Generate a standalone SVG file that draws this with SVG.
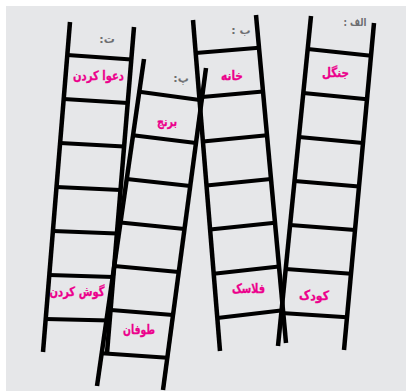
<svg xmlns="http://www.w3.org/2000/svg" width="406" height="391" viewBox="0 0 406 391">
<style>
.rail{stroke:#000;stroke-width:4.5;stroke-linecap:butt;fill:none}
.rung{stroke:#000;stroke-width:4;fill:none}
.word{font-family:"DejaVu Sans","Noto Sans",sans-serif;font-weight:bold;font-size:13px;fill:#ec008c;stroke:#ec008c;stroke-width:0.3;text-anchor:middle}
.lbl{font-family:"DejaVu Sans","Noto Sans",sans-serif;font-weight:bold;font-size:11px;fill:#6d6e71;text-anchor:middle}
</style>
<rect x="0" y="0" width="406" height="391" fill="#ffffff"/>
<rect x="6" y="6" width="400" height="385" fill="#e6e7e9"/>
<g id="ladder-alef">
<line class="rail" x1="311" y1="16" x2="278" y2="346"/>
<line class="rail" x1="374" y1="23" x2="344" y2="350"/>
<line class="rung" x1="307.7" y1="49" x2="371" y2="55.7"/>
<line class="rung" x1="303.3" y1="93" x2="367" y2="99.3"/>
<line class="rung" x1="298.9" y1="137" x2="363" y2="142.9"/>
<line class="rung" x1="294.5" y1="181" x2="359" y2="186.5"/>
<line class="rung" x1="290.1" y1="225" x2="355" y2="230.1"/>
<line class="rung" x1="285.7" y1="269" x2="351" y2="273.7"/>
<line class="rung" x1="281.3" y1="313" x2="347" y2="317.3"/>
<text class="lbl" x="355" y="26" direction="rtl" textLength="23" lengthAdjust="spacingAndGlyphs">الف :</text>
<text class="word" x="335.5" y="77" textLength="27" lengthAdjust="spacingAndGlyphs">جنگل</text>
<text class="word" x="314" y="300" textLength="30" lengthAdjust="spacingAndGlyphs">کودک</text>
</g>
<g id="ladder-be">
<line class="rail" x1="193" y1="20" x2="220" y2="351"/>
<line class="rail" x1="256" y1="15" x2="286" y2="343"/>
<line class="rung" x1="195.7" y1="53.1" x2="259" y2="47.8"/>
<line class="rung" x1="199.3" y1="97.2" x2="263" y2="91.5"/>
<line class="rung" x1="202.9" y1="141.4" x2="267" y2="135.3"/>
<line class="rung" x1="206.5" y1="185.5" x2="271" y2="179"/>
<line class="rung" x1="210.1" y1="229.6" x2="275" y2="222.7"/>
<line class="rung" x1="213.7" y1="273.8" x2="279" y2="266.5"/>
<line class="rung" x1="217.3" y1="317.9" x2="283" y2="310.2"/>
<text class="lbl" x="241" y="34" direction="rtl">ب :</text>
<text class="word" x="232" y="80" textLength="22" lengthAdjust="spacingAndGlyphs">خانه</text>
<text class="word" x="248.5" y="293" textLength="33" lengthAdjust="spacingAndGlyphs">فلاسک</text>
</g>
<g id="ladder-te">
<line class="rail" x1="70" y1="22" x2="43" y2="352"/>
<line class="rail" x1="134" y1="27" x2="107" y2="353"/>
<line class="rung" x1="67.3" y1="55" x2="131.3" y2="59.6"/>
<line class="rung" x1="63.7" y1="99" x2="127.7" y2="103.1"/>
<line class="rung" x1="60.1" y1="143" x2="124.1" y2="146.5"/>
<line class="rung" x1="56.5" y1="187" x2="120.5" y2="190"/>
<line class="rung" x1="52.9" y1="231" x2="116.9" y2="233.5"/>
<line class="rung" x1="49.3" y1="275" x2="113.3" y2="276.9"/>
<line class="rung" x1="45.7" y1="319" x2="109.7" y2="320.4"/>
<text class="lbl" x="107" y="43" direction="rtl">ت:</text>
<text class="word" x="98.5" y="80" textLength="51" lengthAdjust="spacingAndGlyphs">دعوا کردن</text>
<text class="word" x="77" y="296" textLength="55" lengthAdjust="spacingAndGlyphs">گوش کردن</text>
</g>
<g id="ladder-pe">
<line class="rail" x1="144" y1="59" x2="97" y2="386"/>
<line class="rail" x1="206" y1="68" x2="163" y2="390"/>
<line class="rung" x1="139.3" y1="91.7" x2="201.7" y2="100.2"/>
<line class="rung" x1="133" y1="135.3" x2="196" y2="143.1"/>
<line class="rung" x1="126.8" y1="178.9" x2="190.2" y2="186.1"/>
<line class="rung" x1="120.5" y1="222.5" x2="184.5" y2="229"/>
<line class="rung" x1="114.2" y1="266.1" x2="178.8" y2="271.9"/>
<line class="rung" x1="108" y1="309.7" x2="173" y2="314.9"/>
<line class="rung" x1="101.7" y1="353.3" x2="167.3" y2="357.8"/>
<text class="lbl" x="181" y="82" direction="rtl">پ:</text>
<text class="word" x="167" y="126" textLength="20" lengthAdjust="spacingAndGlyphs">برنج</text>
<text class="word" x="139" y="334" textLength="32" lengthAdjust="spacingAndGlyphs">طوفان</text>
</g>
<g id="connectors"></g>
</svg>
